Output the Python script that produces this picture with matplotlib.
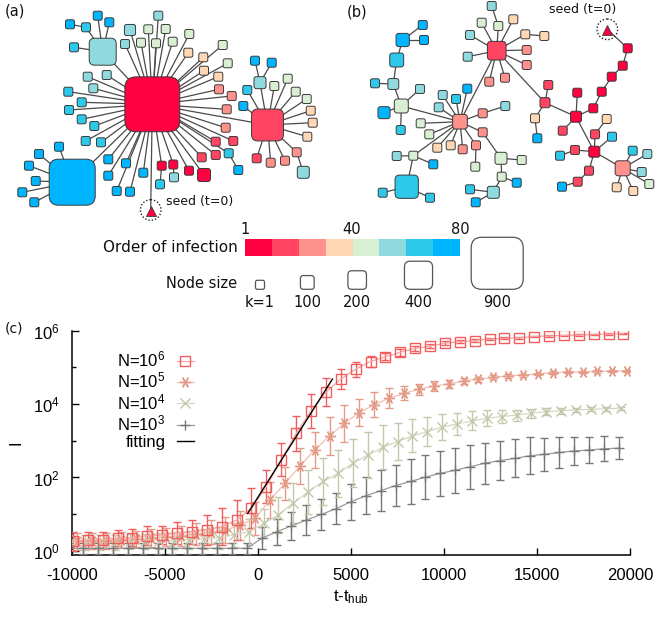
import numpy as np
import matplotlib

matplotlib.use("Agg")
import matplotlib.pyplot as plt
from matplotlib.patches import FancyBboxPatch, Rectangle, Circle
from matplotlib.lines import Line2D

plt.rcParams["font.family"] = "Liberation Sans"
plt.rcParams["mathtext.fontset"] = "custom"
plt.rcParams["mathtext.rm"] = "Liberation Sans"
plt.rcParams["mathtext.it"] = "Liberation Sans:italic"
plt.rcParams["axes.unicode_minus"] = False

# ---------------------------------------------------------------- colour / size keys
ORDER_COLORS = ["#ff0040", "#ff4562", "#ff918c", "#ffd7b5",
                "#d9efd3", "#8fdadf", "#2ec8ea", "#00b5ff"]
ORDER_TICKS = [1, 40, 80]
SIZE_KEYS = [1, 100, 200, 400, 900]
SIZE_LABELS = ["k=1", "100", "200", "400", "900"]

# ---------------------------------------------------------------- panel (a) network
# (name, x, y, order bin 1-8, degree k, parent)
A_HUBS = [
    ("A0", 152.3, 104.3, 1, 960, None),
    ("A1", 102.7, 51.7, 6, 377, "A0"),
    ("A2", 72.2, 182.2, 8, 775, "A0"),
    ("A3", 267.5, 125.0, 2, 480, "A0"),
]
A_TEAL_LEAVES = [
    ("a1", 86.0, 27.3, 7, 1, "A1"),
    (None, 70.0, 24.3, 8, 1, "a1"),
    (None, 97.7, 15.7, 8, 1, "A1"),
    (None, 109.3, 22.3, 8, 1, "A1"),
    (None, 74.0, 47.3, 7, 1, "A1"),
]
A_CORE_LEAVES = [
    (None, 130.0, 30.0, 6, 45, "A0"), (None, 125.0, 44.0, 6, 1, "A0"),
    (None, 148.3, 29.3, 5, 1, "A0"), (None, 141.0, 42.7, 5, 1, "A0"),
    (None, 158.3, 15.7, 6, 1, "A0"), (None, 165.7, 29.0, 5, 1, "A0"),
    (None, 156.0, 43.3, 5, 1, "A0"), (None, 172.7, 41.7, 5, 1, "A0"),
    (None, 189.3, 34.0, 5, 1, "A0"), (None, 188.3, 52.7, 4, 1, "A0"),
    (None, 203.3, 57.3, 4, 1, "A0"), (None, 222.7, 45.0, 5, 1, "A0"),
    (None, 227.7, 63.3, 5, 1, "A0"), (None, 204.0, 70.7, 4, 1, "A0"),
    (None, 218.3, 76.7, 4, 1, "A0"), (None, 219.0, 89.3, 3, 1, "A0"),
    (None, 231.7, 96.0, 3, 1, "A0"), (None, 226.7, 109.3, 3, 1, "A0"),
    (None, 225.7, 127.7, 3, 1, "A0"), (None, 215.7, 141.7, 2, 1, "A0"),
    (None, 233.3, 141.0, 2, 1, "A0"), (None, 215.7, 155.0, 2, 1, "A0"),
    ("a2", 228.7, 153.3, 7, 1, "A0"), (None, 238.3, 170.0, 8, 1, "a2"),
    (None, 201.7, 157.3, 2, 1, "A0"), (None, 204.0, 175.0, 1, 85, "A0"),
    (None, 189.0, 170.7, 1, 1, "A0"),
    ("a3", 173.3, 164.5, 1, 1, "A0"), (None, 174.0, 177.3, 6, 1, "a3"),
    ("a4", 161.7, 165.7, 1, 1, "A0"), (None, 160.0, 184.3, 7, 1, "a4"),
    (None, 143.3, 172.7, 8, 1, "A0"), (None, 130.0, 191.7, 8, 1, "A0"),
    (None, 116.7, 191.0, 8, 1, "A0"), (None, 126.0, 163.3, 8, 1, "A0"),
    (None, 108.3, 175.7, 8, 1, "A0"), (None, 108.3, 159.3, 8, 1, "A0"),
    (None, 101.0, 142.3, 7, 1, "A0"), (None, 85.7, 141.0, 7, 1, "A0"),
    (None, 94.3, 126.0, 7, 1, "A0"), (None, 81.7, 119.3, 7, 1, "A0"),
    (None, 69.0, 110.0, 7, 1, "A0"), (None, 81.7, 102.3, 7, 1, "A0"),
    (None, 68.3, 91.7, 7, 1, "A0"), (None, 93.3, 88.3, 6, 1, "A0"),
    (None, 87.7, 76.7, 6, 1, "A0"), (None, 106.7, 75.0, 6, 1, "A0"),
]
A_BLUE_LEAVES = [
    (None, 59.0, 146.7, 8, 1, "A2"), (None, 39.0, 154.0, 8, 1, "A2"),
    (None, 29.0, 165.7, 8, 1, "A2"), (None, 35.7, 181.0, 8, 1, "A2"),
    (None, 22.3, 192.3, 8, 1, "A2"), (None, 34.3, 202.3, 8, 1, "A2"),
]
A_RIGHT_LEAVES = [
    ("a5", 260.0, 82.7, 6, 64, "A3"),
    (None, 255.0, 60.7, 8, 1, "a5"), (None, 271.7, 62.7, 8, 1, "a5"),
    (None, 247.3, 90.0, 7, 1, "A3"), (None, 243.3, 106.0, 8, 1, "A3"),
    (None, 274.3, 86.0, 5, 1, "A3"), (None, 287.7, 78.7, 5, 1, "A3"),
    (None, 295.7, 91.7, 5, 1, "A3"), (None, 306.7, 99.0, 5, 1, "A3"),
    (None, 310.7, 110.7, 4, 1, "A3"), (None, 312.7, 122.7, 4, 1, "A3"),
    (None, 307.3, 136.7, 4, 1, "A3"),
    ("a6", 296.7, 152.3, 3, 1, "A3"), (None, 303.3, 172.3, 6, 64, "a6"),
    (None, 285.0, 160.7, 3, 1, "A3"), (None, 270.7, 162.7, 3, 1, "A3"),
    (None, 256.7, 158.3, 2, 1, "A3"),
]
A_SEED = (150.7, 210.0, "A0")

# ---------------------------------------------------------------- panel (b) network
B_HUBS = [
    ("B0", 496.7, 50.7, 2, 203, None),
    ("B1", 460.0, 121.7, 3, 120, "B0"),
]
B_LEFT = [
    ("bl1", 401.3, 106.0, 5, 105, "B1"),
    ("bl2", 393.3, 84.0, 6, 40, "bl1"),
    (None, 375.0, 83.3, 7, 1, "bl2"),
    ("bl3", 396.7, 60.0, 7, 105, "bl2"),
    ("bl4", 402.7, 40.0, 8, 90, "bl3"),
    (None, 422.7, 25.0, 8, 1, "bl4"), (None, 424.0, 40.0, 8, 1, "bl4"),
    (None, 420.0, 89.0, 6, 1, "bl1"), (None, 384.0, 112.7, 8, 64, "bl1"),
    (None, 400.7, 130.0, 7, 1, "bl1"),
]
B_MID = [
    (None, 442.7, 95.0, 6, 1, "B1"), (None, 456.0, 99.0, 7, 1, "B1"),
    (None, 467.3, 88.7, 8, 1, "B1"), (None, 438.7, 107.3, 6, 1, "B1"),
    (None, 420.7, 123.3, 5, 1, "B1"), (None, 429.3, 134.3, 5, 1, "B1"),
    (None, 437.3, 147.7, 4, 1, "B1"), (None, 450.7, 145.3, 4, 1, "B1"),
    (None, 462.7, 149.3, 3, 1, "B1"),
    ("bm1", 476.0, 145.3, 3, 1, "B1"), (None, 475.3, 166.7, 5, 1, "bm1"),
    ("bm2", 482.7, 113.3, 3, 1, "B1"), (None, 505.3, 106.0, 6, 1, "bm2"),
    ("bm3", 482.7, 132.3, 3, 1, "B1"),
    ("bm4", 501.0, 158.3, 5, 64, "bm3"), (None, 521.7, 160.0, 5, 1, "bm4"),
    ("bm5", 501.7, 176.7, 5, 1, "bm4"), (None, 516.7, 182.7, 8, 1, "bm5"),
    ("bm6", 493.3, 192.3, 6, 64, "bm5"),
    (None, 470.0, 189.3, 7, 1, "bm6"), (None, 475.7, 202.3, 8, 1, "bm6"),
    ("bs1", 413.3, 155.7, 5, 1, "B1"),
    (None, 396.7, 156.0, 6, 1, "bs1"), (None, 433.3, 164.3, 8, 1, "bs1"),
    ("bs2", 406.7, 186.7, 7, 300, "bs1"),
    (None, 382.7, 192.7, 7, 1, "bs2"), (None, 430.0, 197.7, 7, 1, "bs2"),
]
B_TOP = [
    ("bt1", 498.3, 26.0, 5, 1, "B0"), (None, 491.7, 6.0, 6, 1, "bt1"),
    (None, 481.7, 22.7, 5, 1, "B0"), (None, 513.3, 19.3, 4, 1, "B0"),
    (None, 470.0, 35.0, 6, 1, "B0"),
    ("bt2", 525.3, 34.3, 4, 1, "B0"), (None, 544.3, 36.0, 4, 1, "bt2"),
    (None, 526.7, 50.0, 3, 1, "B0"), (None, 526.7, 65.0, 3, 1, "B0"),
    (None, 467.7, 56.7, 6, 1, "B0"), (None, 489.3, 81.7, 3, 1, "B0"),
    (None, 505.0, 77.7, 3, 1, "B0"),
]
B_RIGHT = [
    ("bc1", 545.0, 102.7, 2, 22, "B0"),
    (None, 548.3, 85.0, 2, 1, "bc1"),
    ("bc2", 535.0, 118.3, 4, 1, "bc1"), (None, 537.3, 138.3, 8, 1, "bc2"),
    ("bc3", 576.0, 116.7, 1, 43, "bc1"),
    (None, 577.3, 92.7, 1, 1, "bc3"), (None, 562.7, 130.7, 2, 1, "bc3"),
    ("bh1", 593.3, 108.3, 1, 1, "bc3"),
    ("bh2", 601.7, 91.7, 1, 1, "bh1"),
    ("bh3", 611.7, 76.7, 1, 1, "bh2"),
    ("bh4", 622.7, 65.7, 1, 1, "bh3"),
    ("bh5", 627.7, 48.3, 1, 1, "bh4"),
    ("bd1", 594.3, 151.7, 1, 43, "bc3"),
    ("bd2", 595.0, 134.3, 2, 1, "bd1"), (None, 606.7, 119.0, 4, 1, "bd2"),
    (None, 612.0, 136.7, 7, 1, "bd1"),
    ("bd3", 575.0, 150.0, 2, 1, "bd1"), (None, 560.0, 155.7, 7, 1, "bd3"),
    ("bd4", 589.0, 170.7, 2, 1, "bd1"),
    ("bd5", 577.7, 181.7, 2, 1, "bd4"), (None, 562.0, 186.7, 8, 1, "bd5"),
    ("bhub", 622.7, 168.3, 3, 127, "bd1"),
    (None, 632.7, 150.7, 7, 1, "bhub"), (None, 647.3, 154.0, 6, 1, "bhub"),
    (None, 641.7, 172.0, 6, 1, "bhub"), (None, 649.3, 184.0, 5, 1, "bhub"),
    (None, 633.3, 191.0, 4, 1, "bhub"), (None, 616.7, 187.3, 4, 1, "bhub"),
]
B_SEED = (607.3, 29.3, "bh5")

# ---------------------------------------------------------------- panel (c) data
T = np.arange(-10000, 20000, 800)  # sampling times relative to hub infection

I_N6 = [1.8, 2.0, 2.0, 2.2, 2.3, 2.6, 2.7, 3.0, 3.3, 3.7, 4.6, 6.9, 14.5,
        56, 300, 1580, 6600, 20900, 47900, 89100, 144500, 195000, 257000,
        331000, 380000, 457000, 501000, 537000, 589000, 617000, 646000,
        692000, 724000, 741000, 759000, 794000, 813000, 832000]
ERR_N6 = [0.25, 0.22, 0.22, 0.22, 0.22, 0.25, 0.25, 0.3, 0.32, 0.42, 0.5, 0.55,
          0.55, 0.45, 0.45, 0.47, 0.46, 0.38, 0.28, 0.2, 0.14, 0.1, 0.09, 0.07,
          0.06, 0.05, 0.04, 0.035, 0.03, 0.03, 0.025, 0.02, 0.02, 0.02, 0.02,
          0.02, 0.02, 0.02]

I_N5 = [1.8, 1.9, 1.9, 2.0, 2.1, 2.2, 2.4, 2.6, 2.8, 3.2, 3.7, 5.0, 7.8,
        24.5, 69, 204, 562, 1350, 3020, 5890, 9550, 14500, 19500, 25700,
        30900, 35500, 42700, 47900, 53700, 58900, 61700, 66100, 72400,
        74100, 75900, 77600, 79400, 81300]
ERR_N5 = [0.22, 0.22, 0.22, 0.22, 0.23, 0.24, 0.25, 0.27, 0.3, 0.33, 0.36, 0.4,
          0.45, 0.5, 0.45, 0.5, 0.5, 0.52, 0.5, 0.38, 0.34, 0.28, 0.19, 0.15,
          0.13, 0.1, 0.08, 0.07, 0.05, 0.05, 0.04, 0.04, 0.03, 0.03, 0.03, 0.03,
          0.03, 0.03]

I_N4 = [1.7, 1.7, 1.7, 1.7, 1.8, 1.8, 1.9, 1.9, 2.0, 2.1, 2.3, 2.7, 3.3,
        5.6, 9.5, 20.4, 40.7, 77.6, 129, 245, 407, 661, 955, 1350, 1780,
        2340, 2880, 3470, 4070, 4570, 5010, 5620, 6170, 6610, 6920, 7240,
        7410, 7760]
ERR_N4 = [0.2, 0.2, 0.2, 0.2, 0.2, 0.21, 0.22, 0.23, 0.25, 0.27, 0.3, 0.33,
          0.36, 0.4, 0.5, 0.55, 0.6, 0.63, 0.65, 0.65, 0.63, 0.6, 0.5, 0.45,
          0.4, 0.35, 0.3, 0.26, 0.22, 0.18, 0.15, 0.12, 0.1, 0.08, 0.06, 0.05,
          0.05, 0.04]

I_N3 = [1.17, 1.17, 1.17, 1.17, 1.17, 1.17, 1.17, 1.17, 1.17, 1.17, 1.17,
        1.17, 1.17, 2.2, 3.3, 4.8, 6.9, 9.8, 14.1, 21.9, 31.6, 43.7, 60.3,
        77.6, 102, 129, 158, 195, 245, 288, 331, 389, 427, 479, 525, 562,
        603, 631]
ERR_N3 = [0.15] * 13 + [0.3, 0.35, 0.38, 0.4, 0.42, 0.43, 0.49, 0.5, 0.56,
                        0.56, 0.6, 0.6, 0.61, 0.61, 0.6, 0.56, 0.54, 0.52,
                        0.5, 0.45, 0.42, 0.39, 0.36, 0.34, 0.31]

# per-series time shift of the plotted samples
SHIFT = {"N6": 50, "N5": 250, "N4": -100, "N3": -200}

FIT_T = [-550, 4000]
FIT_I = [10.5, 48000]


def node_px(k):
    # box edge length in pixels grows linearly with degree (k=1 -> 9 px, k=900 -> 52 px)
    return 9.0 + 43.0 * (k - 1) / 899.0


def draw_box(ax, x, y, size, face, edge="#3a3a3a", lw=0.7, z=3):
    r = 0.2 * size
    box = FancyBboxPatch((x - size / 2, y - size / 2), size, size,
                         boxstyle=f"round,pad=0,rounding_size={r}",
                         facecolor=face, edgecolor=edge, linewidth=lw, zorder=z)
    ax.add_patch(box)


def draw_network(ax, groups, seed):
    nodes = [n for g in groups for n in g]
    pos = {n[0]: (n[1], n[2]) for n in nodes if n[0] is not None}
    for name, x, y, grp, k, parent in nodes:
        if parent is not None:
            px, py = pos[parent]
            ax.plot([x, px], [y, py], color="#4a4a4a", lw=0.9, zorder=1)
    sx, sy, sp = seed
    px, py = pos[sp]
    ax.plot([sx, px], [sy, py], color="#4a4a4a", lw=0.9, zorder=1)
    for name, x, y, grp, k, parent in sorted(nodes, key=lambda n: -n[4]):
        draw_box(ax, x, y, node_px(k), ORDER_COLORS[grp - 1])
    ax.add_patch(Circle((sx, sy), 10.3, fill=False, edgecolor="#222222",
                        linewidth=1.0, linestyle=(0, (1, 1.4)), zorder=3))
    ax.plot(sx, sy + 0.8, marker="^", markersize=7.5, color=ORDER_COLORS[0],
            markeredgecolor="#3a3a3a", markeredgewidth=0.6, zorder=4)


fig = plt.figure(figsize=(6.59, 6.18), dpi=100)

# ---------------------------------------------------------------- top panels
top = fig.add_axes([0, 0, 1, 1])
top.set_xlim(0, 659)
top.set_ylim(618, 0)
top.axis("off")

draw_network(top, [A_HUBS, A_TEAL_LEAVES, A_CORE_LEAVES, A_BLUE_LEAVES, A_RIGHT_LEAVES], A_SEED)
draw_network(top, [B_HUBS, B_LEFT, B_MID, B_TOP, B_RIGHT], B_SEED)

panel_font = dict(family="DejaVu Sans", color="#111111")
top.text(5, 11, "(a)", fontsize=10.5, va="center", ha="left", **panel_font)
top.text(347, 12, "(b)", fontsize=10.5, va="center", ha="left", **panel_font)
top.text(5, 328, "(c)", fontsize=10, va="center", ha="left", **panel_font)
top.text(165.5, 201.5, "seed (t=0)", fontsize=9, va="center", ha="left", **panel_font)
top.text(582.5, 9.5, "seed (t=0)", fontsize=9, va="center", ha="center", **panel_font)

# colour key for order of infection
bar_x0, bar_x1, bar_y0, bar_y1 = 245.0, 460.0, 239.3, 256.0
step = (bar_x1 - bar_x0) / len(ORDER_COLORS)
for i, col in enumerate(ORDER_COLORS):
    top.add_patch(Rectangle((bar_x0 + i * step, bar_y0), step + 0.3, bar_y1 - bar_y0,
                            facecolor=col, edgecolor="none", zorder=2))
for v in ORDER_TICKS:
    tx = bar_x0 + (v - 1) / (ORDER_TICKS[-1] - 1) * (bar_x1 - bar_x0)
    top.text(tx, 230, str(v), fontsize=10.5, ha="center", va="center", **panel_font)
top.text(238, 247.5, "Order of infection", fontsize=11, ha="right", va="center", **panel_font)

# node size key
top.text(237, 284, "Node size", fontsize=10.5, ha="right", va="center", **panel_font)
key_x = [260.0, 307.3, 357.2, 418.5, 497.2]
key_base = 289.3
for kx, k, lab in zip(key_x, SIZE_KEYS, SIZE_LABELS):
    s = node_px(k)
    draw_box(top, kx, key_base - s / 2, s, "white", edge="#555555", lw=0.9)
    top.text(kx, 302.5, lab, fontsize=10.5, ha="center", va="center", **panel_font)

# ---------------------------------------------------------------- panel (c)
ax = fig.add_axes([72 / 659, 1 - 555 / 618, 558 / 659, (555 - 330.7) / 618])

series = [
    ("N3", I_N3, ERR_N3, dict(marker="+", ms=7, mec="#777777", mfc="none", mew=1.0),
     "#9a9a9a", "#777777"),
    ("N4", I_N4, ERR_N4, dict(marker="x", ms=7, mec="#c5c7ab", mfc="none", mew=1.0),
     "#d6d8c4", "#c5c7ab"),
    ("N5", I_N5, ERR_N5, dict(marker=(6, 2, 90), ms=8, mec="#e39a86", mfc="none", mew=1.0),
     "#efbfb1", "#e39a86"),
    ("N6", I_N6, ERR_N6, dict(marker="s", ms=6.5, mec="#f25c5c", mfc="none", mew=1.0),
     "#f7a5a5", "#f25c5c"),
]

handles = {}
for key, vals, err, mstyle, line_col, err_col in series:
    t = T + SHIFT[key]
    y = np.asarray(vals, dtype=float)
    fac = 10.0 ** np.asarray(err)
    yerr = [y - y / fac, y * fac - y]
    ax.errorbar(t, y, yerr=yerr, color=line_col, lw=0.9, ecolor=err_col,
                elinewidth=1.0, capsize=2.6, capthick=1.0, zorder=3, **mstyle)
    handles[key] = Line2D([], [], color=line_col, lw=0.9, **mstyle)

ax.plot(FIT_T, FIT_I, color="black", lw=1.0, zorder=5)
handles["fit"] = Line2D([], [], color="black", lw=1.0)

ax.set_yscale("log")
ax.set_xlim(-10000, 20000)
ax.set_ylim(0.77, 1e6)
ax.set_yticks([1, 1e2, 1e4, 1e6])
ax.set_yticks([10, 1e3, 1e5], minor=True)
ax.set_yticklabels([], minor=True)
ax.set_xticks([-10000, -5000, 0, 5000, 10000, 15000, 20000])
ax.tick_params(which="major", direction="in", length=5, width=1, labelsize=12, pad=9)
ax.tick_params(which="minor", direction="in", length=3, width=1)
for side in ("top", "right"):
    ax.spines[side].set_visible(False)
for side in ("left", "bottom"):
    ax.spines[side].set_linewidth(1.1)
ax.set_ylabel("I", fontsize=12, labelpad=7)
ax.set_xlabel("t-t$_{\\mathrm{hub}}$", fontsize=12, labelpad=4)

order = ["N6", "N5", "N4", "N3", "fit"]
labels = ["N=$10^6$", "N=$10^5$", "N=$10^4$", "N=$10^3$", "fitting"]
ax.legend([handles[k] for k in order], labels, loc="upper right",
          bbox_to_anchor=(0.218, 0.915), frameon=False, markerfirst=False,
          handlelength=1.0, handletextpad=0.7, labelspacing=0.08,
          fontsize=12, borderaxespad=0, borderpad=0)

fig.savefig("out.png", dpi=100)
